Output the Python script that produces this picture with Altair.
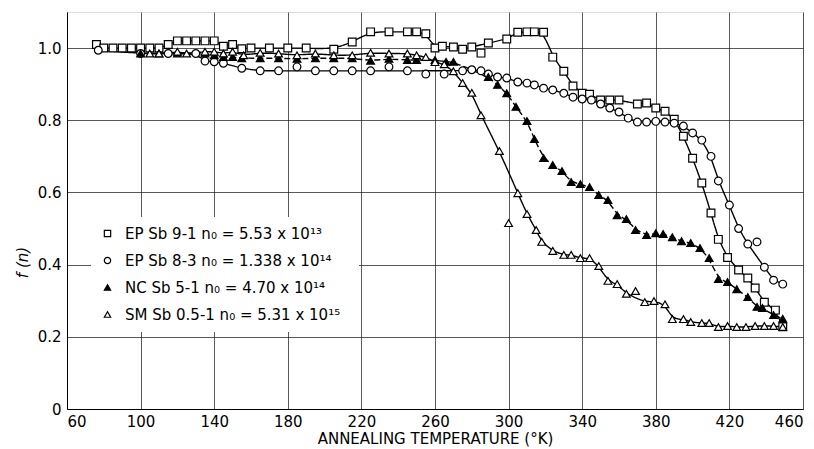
import altair as alt
import pandas as pd

series_names = [
    "EP Sb 9-1   n\u2080 = 5.53 x 10\u00b9\u00b3",
    "EP Sb 8-3   n\u2080 = 1.338 x 10\u00b9\u2074",
    "NC Sb 5-1   n\u2080 = 4.70 x 10\u00b9\u2074",
    "SM Sb 0.5-1   n\u2080 = 5.31 x 10\u00b9\u2075",
]

# EP Sb 9-1 (open squares)
sq_T = [76, 80, 85, 90, 95, 100, 105, 110, 115, 120, 125, 130, 135, 140, 145, 150, 155, 160, 170, 180,
        190, 205, 215, 225, 235, 245, 250, 255, 260, 264, 270, 275, 280, 285, 289, 299, 305, 310, 314,
        319, 324, 330, 335, 340, 344, 350, 355, 360, 370, 375, 380, 385, 390, 395, 400, 405, 410, 414,
        419, 425, 430, 434, 439, 445, 449]
sq_F = [1.01, 1.0, 1.0, 1.0, 1.0, 1.0, 1.0, 1.0, 1.01, 1.02, 1.02, 1.02, 1.02, 1.02, 1.005, 1.01, 0.998,
        1.0, 1.0, 1.0, 1.0, 0.997, 1.017, 1.045, 1.045, 1.045, 1.045, 1.04, 1.0, 1.005, 1.003, 0.997,
        1.003, 0.986, 1.014, 1.025, 1.044, 1.045, 1.045, 1.044, 0.975, 0.936, 0.895, 0.875, 0.872, 0.856,
        0.856, 0.856, 0.845, 0.848, 0.834, 0.825, 0.803, 0.756, 0.695, 0.626, 0.543, 0.47, 0.42, 0.385,
        0.363, 0.335, 0.296, 0.274, 0.228]
sq_off = [285]

# EP Sb 8-3 (open circles)
ci_T = [77, 100, 115, 130, 135, 140, 145, 155, 165, 175, 185, 195, 205, 215, 225, 235, 245, 255, 265,
        275, 280, 285, 289, 294, 299, 305, 310, 314, 319, 324, 330, 335, 340, 345, 350, 355, 360, 365,
        370, 375, 380, 385, 390, 395, 400, 405, 410, 414, 420, 425, 430, 435, 439, 444, 449]
ci_F = [0.994, 0.985, 0.985, 0.985, 0.964, 0.962, 0.958, 0.944, 0.937, 0.937, 0.948, 0.937, 0.937,
        0.937, 0.937, 0.948, 0.937, 0.928, 0.928, 0.937, 0.94, 0.937, 0.928, 0.92, 0.917, 0.906, 0.903,
        0.898, 0.889, 0.884, 0.875, 0.864, 0.859, 0.856, 0.845, 0.834, 0.823, 0.806, 0.795, 0.795,
        0.797, 0.795, 0.792, 0.784, 0.765, 0.745, 0.70, 0.632, 0.565, 0.50, 0.457, 0.463, 0.393, 0.357,
        0.346]
ci_off = [185, 235, 255, 265, 435]

# NC Sb 5-1 (filled triangles)
ft_T = [100, 110, 120, 135, 140, 145, 150, 155, 165, 175, 185, 195, 205, 215, 225, 235, 245, 250, 260,
        266, 270, 289, 294, 299, 304, 310, 314, 319, 324, 329, 334, 339, 344, 349, 354, 359, 364, 369,
        375, 380, 384, 389, 394, 399, 404, 409, 414, 419, 424, 430, 435, 438, 444, 449]
ft_F = [0.985, 0.985, 0.985, 0.985, 0.98, 0.975, 0.975, 0.972, 0.972, 0.972, 0.97, 0.972, 0.972, 0.972,
        0.965, 0.97, 0.967, 0.967, 0.967, 0.962, 0.962, 0.92, 0.898, 0.875, 0.837, 0.798, 0.748, 0.695,
        0.676, 0.659, 0.629, 0.623, 0.615, 0.593, 0.579, 0.537, 0.526, 0.496, 0.482, 0.487, 0.485,
        0.476, 0.465, 0.46, 0.446, 0.418, 0.36, 0.352, 0.332, 0.31, 0.283, 0.28, 0.26, 0.25]
ft_off = []

# SM Sb 0.5-1 (open triangles)
ot_T = [105, 110, 120, 125, 135, 140, 145, 150, 156, 165, 175, 185, 195, 205, 215, 225, 235, 245, 250,
        255, 260, 265, 270, 275, 280, 285, 295, 300, 305, 310, 315, 318, 324, 330, 334, 339, 344, 349,
        354, 359, 364, 369, 374, 379, 385, 389, 395, 399, 405, 409, 414, 419, 424, 429, 434, 439, 444,
        449]
ot_F = [0.985, 0.985, 0.99, 0.985, 0.99, 0.99, 0.985, 0.99, 0.98, 0.987, 0.985, 0.98, 0.985, 0.98, 0.98,
        0.987, 0.985, 0.985, 0.98, 0.975, 0.961, 0.955, 0.936, 0.903, 0.876, 0.814, 0.715, 0.515, 0.598,
        0.54, 0.496, 0.463, 0.438, 0.427, 0.427, 0.418, 0.418, 0.396, 0.355, 0.346, 0.319, 0.327, 0.296,
        0.299, 0.29, 0.249, 0.249, 0.241, 0.238, 0.238, 0.227, 0.23, 0.227, 0.227, 0.23, 0.23, 0.23, 0.227]
ot_off = [300, 369]

rows = []
for name, T, F, off in zip(series_names,
                           [sq_T, ci_T, ft_T, ot_T],
                           [sq_F, ci_F, ft_F, ot_F],
                           [sq_off, ci_off, ft_off, ot_off]):
    for t, f in zip(T, F):
        rows.append({"series": name, "curve": name, "T": t, "F": f, "on_curve": t not in off})
df = pd.DataFrame(rows)

FONT = "DejaVu Sans"

x_enc = alt.X("T:Q", scale=alt.Scale(domain=[60, 460], nice=False, zero=False),
              axis=alt.Axis(values=list(range(60, 461, 40)), title="ANNEALING TEMPERATURE (°K)",
                            grid=True, gridColor="#222", gridOpacity=0.75, gridWidth=1,
                            domainColor="black", tickSize=0, labelPadding=5,
                            labelFontSize=15, labelFont=FONT, labelColor="black",
                            titleFont=FONT, titleFontSize=15, titleFontWeight="normal",
                            titleColor="black", titlePadding=2))
y_enc = alt.Y("F:Q", scale=alt.Scale(domain=[0, 1.1], nice=False),
              axis=alt.Axis(values=[0, 0.2, 0.4, 0.6, 0.8, 1.0],
                            labelExpr="datum.value == 0 ? '0' : format(datum.value, '.1f')",
                            title="f (n)", titleFontStyle="italic", titleFontWeight="normal",
                            titleFont=FONT, titleFontSize=15, titleColor="black",
                            titleX=-45, titleY=250, titleBaseline="middle",
                            grid=True, gridColor="#222", gridOpacity=0.75, gridWidth=1,
                            domainColor="black", tickSize=0, labelPadding=6,
                            labelFontSize=15, labelFont=FONT, labelColor="black"))

base = alt.Chart(df)

lines = base.transform_filter("datum.on_curve").mark_line(
    interpolate="basis", color="black", strokeWidth=1.4
).encode(
    x=x_enc, y=y_enc, detail="curve:N",
    strokeDash=alt.StrokeDash("curve:N",
                              scale=alt.Scale(domain=series_names,
                                              range=[[1, 0], [1, 0], [6, 3], [1, 0]]),
                              legend=None),
)

legend = alt.Legend(title=None, orient="none", legendX=24, legendY=205,
                    fillColor="white", padding=9, labelFontSize=15, labelFont=FONT,
                    labelColor="black", symbolSize=40, symbolStrokeColor="black",
                    symbolStrokeWidth=1.2, rowPadding=11, labelOffset=10, labelLimit=400)

points = base.mark_point(filled=True, strokeWidth=1.2, size=60, opacity=1).encode(
    x=x_enc, y=y_enc,
    shape=alt.Shape("series:N",
                    scale=alt.Scale(domain=series_names,
                                    range=["square", "circle", "triangle-up", "triangle-up"]),
                    legend=legend),
    fill=alt.Fill("series:N",
                  scale=alt.Scale(domain=series_names,
                                  range=["white", "white", "black", "white"]),
                  legend=legend),
    stroke=alt.Stroke("series:N",
                      scale=alt.Scale(domain=series_names,
                                      range=["black", "black", "black", "black"]),
                      legend=legend),
)

chart = alt.layer(lines, points).resolve_legend(strokeDash="independent").properties(
    width=736, height=397,
    autosize=alt.AutoSizeParams(type="none"),
    padding={"left": 59, "top": 4, "right": 3, "bottom": 39},
).configure_view(stroke="black", strokeWidth=1).configure(background="white")

chart.save("out.html", embed_options={"renderer": "svg", "actions": False})
